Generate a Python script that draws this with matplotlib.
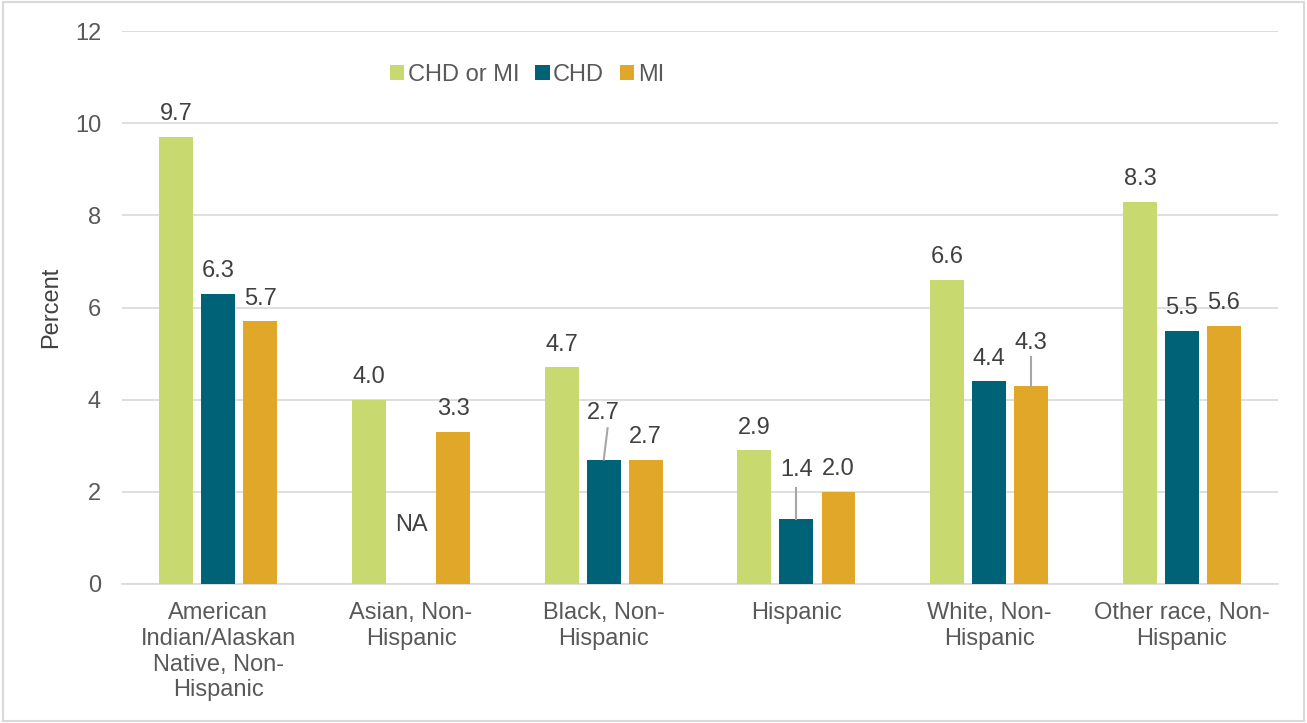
import matplotlib
matplotlib.use("Agg")
import matplotlib.pyplot as plt
import numpy as np
from matplotlib.patches import Rectangle

plt.rcParams['font.family'] = ['Liberation Sans', 'DejaVu Sans']

categories = [
    "American\nIndian/Alaskan\nNative, Non-\nHispanic",
    "Asian, Non-\nHispanic",
    "Black, Non-\nHispanic",
    "Hispanic",
    "White, Non-\nHispanic",
    "Other race, Non-\nHispanic",
]
series_names = ["CHD or MI", "CHD", "MI"]
chd_or_mi = [9.7, 4.0, 4.7, 2.9, 6.6, 8.3]
chd = [6.3, None, 2.7, 1.4, 4.4, 5.5]
mi = [5.7, 3.3, 2.7, 2.0, 4.3, 5.6]
colors = ["#C8D96F", "#006277", "#E0A729"]
yticks = [0, 2, 4, 6, 8, 10, 12]

# labels lifted above the bar with a leader line: (series, category) -> (label y, line top, line top x shift)
lifted = {(1, 2): (3.71, 3.38, 0.02), (1, 3): (2.47, 2.08, 0.0), (2, 4): (5.23, 4.93, 0.0)}

FS = 17
fig = plt.figure(figsize=(13.07, 7.23), dpi=100)
ax = fig.add_axes([0.0933, 0.1923, 0.8847, 0.7647])

x = np.arange(len(categories))
width = 0.176
step = 0.218
offsets = [-step, 0, step]
all_series = [chd_or_mi, chd, mi]

for si, (vals, col, name) in enumerate(zip(all_series, colors, series_names)):
    xs = x + offsets[si]
    heights = [v if v is not None else 0 for v in vals]
    ax.bar(xs, heights, width=width, color=col, label=name, zorder=3)
    for ci, v in enumerate(vals):
        if v is None:
            ax.text(xs[ci], 1.28, "NA", ha="center", va="center",
                    fontsize=FS, color="#404040", zorder=4)
            continue
        if (si, ci) in lifted:
            ly, top, dx = lifted[(si, ci)]
            ax.plot([xs[ci], xs[ci] + dx], [v, top], color="#A6A6A6",
                    lw=1.5, zorder=4)
            ax.text(xs[ci], ly, f"{v:.1f}", ha="center", va="center",
                    fontsize=FS, color="#404040", zorder=4)
        else:
            ax.text(xs[ci], v + 0.49, f"{v:.1f}", ha="center", va="center",
                    fontsize=FS, color="#404040", zorder=4)

ax.set_xlim(-0.5, len(categories) - 0.5)
ax.set_ylim(0, 12)
ax.set_yticks(yticks)
ax.set_yticklabels([str(t) for t in yticks], fontsize=FS, color="#595959")
ax.set_xticks(x)
ax.set_xticklabels(categories, fontsize=FS, color="#595959", linespacing=1.22)
ax.tick_params(axis="x", length=0, pad=13)
ax.tick_params(axis="y", length=0, pad=15)
ax.grid(axis="y", color="#D9D9D9", lw=1.2, zorder=0)
for s in ["left", "right", "top"]:
    ax.spines[s].set_visible(False)
ax.spines["bottom"].set_color("#D9D9D9")
ax.spines["bottom"].set_linewidth(1.2)
ax.set_ylabel("Percent", fontsize=FS, color="#404040")
ax.yaxis.set_label_coords(-0.052, 0.5)

leg = ax.legend(loc="center left", bbox_to_anchor=(0.232, 0.920), ncol=3,
                frameon=False, fontsize=FS, handlelength=0.6, handleheight=0.6,
                handletextpad=0.15, columnspacing=0.68, borderpad=0, borderaxespad=0)
for t in leg.get_texts():
    t.set_color("#595959")

fig.patches.append(Rectangle((0.002, 0.003), 0.996, 0.994, transform=fig.transFigure,
                             fill=False, edgecolor="#D9D9D9", lw=1.5))

fig.savefig("out.png", dpi=100)
